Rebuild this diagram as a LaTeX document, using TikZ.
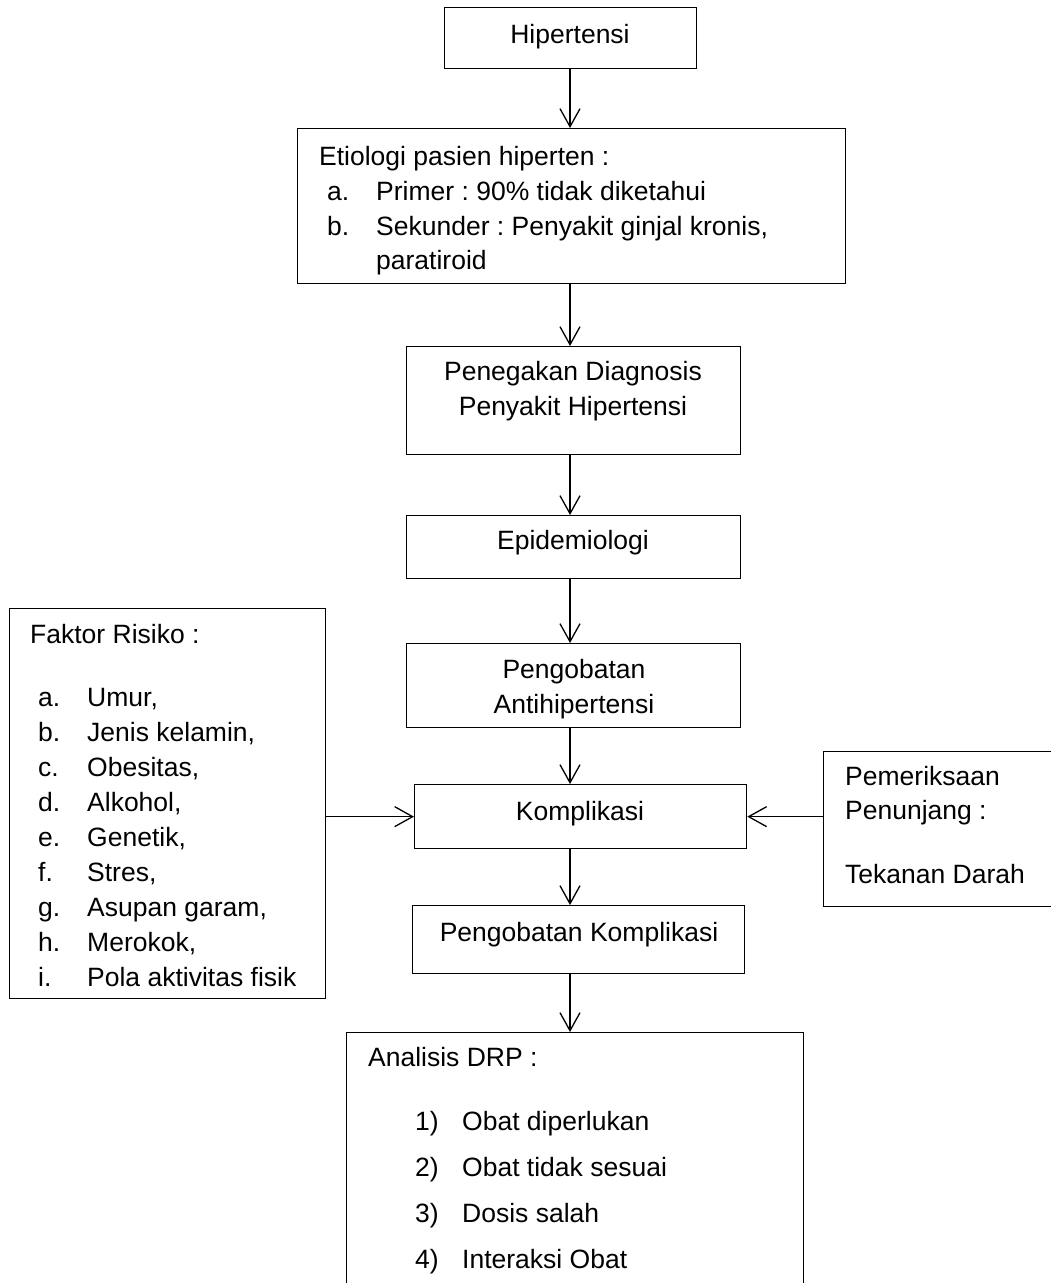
\documentclass[tikz,border=0pt]{standalone}
\usepackage{fontspec}
\setmainfont{Liberation Sans}
\frenchspacing
\usetikzlibrary{arrows.meta}
\tikzset{
  box/.style={draw=black, line width=1.3pt, rectangle, inner sep=0pt, anchor=north west},
  txt/.style={inner sep=0pt, font=\fontsize{26.5pt}{32pt}\selectfont},
  tl/.style={txt, anchor=base west},
  tc/.style={txt, anchor=base},
  arr/.style={line width=1.3pt, -{Straight Barb[length=18pt,width=20pt,line width=1.3pt]}}
}
\begin{document}
\begin{tikzpicture}[x=1pt,y=-1pt]
\clip (0,0) rectangle (1051,1283);
\fill[white] (0,0) rectangle (1051,1283);
% boxes
\node[box, minimum width=252pt, minimum height=61pt] (h) at (444,7) {};
\node[box, minimum width=548pt, minimum height=155pt] (et) at (297,128) {};
\node[box, minimum width=334pt, minimum height=108pt] (pd) at (406,346) {};
\node[box, minimum width=334pt, minimum height=63pt] (ep) at (406,515) {};
\node[box, minimum width=334pt, minimum height=84pt] (pa) at (406,643) {};
\node[box, minimum width=332pt, minimum height=64pt] (ko) at (414,784) {};
\node[box, minimum width=332pt, minimum height=68pt] (pk) at (412,905) {};
\node[box, minimum width=457pt, minimum height=300pt] (an) at (346,1032) {};
\node[box, minimum width=260pt, minimum height=155pt] (pp) at (823,751) {};
\node[box, minimum width=316pt, minimum height=390pt] (fr) at (9,608) {};
\coordinate (axis) at (570,0);
% connectors
\draw[arr] (axis |- h.south) -- (axis |- et.north);
\draw[arr] (axis |- et.south) -- (axis |- pd.north);
\draw[arr] (axis |- pd.south) -- (axis |- ep.north);
\draw[arr] (axis |- ep.south) -- (axis |- pa.north);
\draw[arr] (axis |- pa.south) -- (axis |- ko.north);
\draw[arr] (axis |- ko.south) -- (axis |- pk.north);
\draw[arr] (axis |- pk.south) -- (axis |- an.north);
\draw[arr] (fr.east |- ko.west) -- (ko.west);
\draw[arr] (pp.west |- ko.east) -- (ko.east);
% texts
\node[tc] (th) at (570,43) {Hipertensi};
\node[tl] (te0) at (319,165) {Etiologi pasien hiperten :};
\node[tl] (tea) at (327,200) {a.};
\node[tl] (tea2) at (376,200) {Primer : 90\% tidak diketahui};
\node[tl] (teb) at (327,235) {b.};
\node[tl] (teb2) at (376,235) {Sekunder : Penyakit ginjal kronis,};
\node[tl] (teb3) at (376,269) {paratiroid};
\node[tc] (tpd1) at (573,380) {Penegakan Diagnosis};
\node[tc] (tpd2) at (573,415) {Penyakit Hipertensi};
\node[tc] (tep) at (573,549) {Epidemiologi};
\node[tc] (tpa1) at (574,678) {Pengobatan};
\node[tc] (tpa2) at (574,713) {Antihipertensi};
\node[tc] (tko) at (580,820) {Komplikasi};
\node[tc] (tpk) at (579,941) {Pengobatan Komplikasi};
\node[tl] (tpp1) at (845,785) {Pemeriksaan};
\node[tl] (tpp2) at (845,819) {Penunjang :};
\node[tl] (tpp3) at (845,883) {Tekanan Darah};
\node[tl] (tfr) at (30,643) {Faktor Risiko :};
\foreach \l/\t [count=\i from 0] in {a./{Umur,},b./{Jenis kelamin,},c./{Obesitas,},d./{Alkohol,},e./{Genetik,},f./{Stres,},g./{Asupan garam,},h./{Merokok,},i./{Pola aktivitas fisik}}{
  \node[tl] (fl\i) at (38,706+35*\i) {\l};
  \node[tl] (ft\i) at (87,706+35*\i) {\t};
}
\node[tl] (tan) at (368,1066) {Analisis DRP :};
\foreach \t [count=\i] in {Obat diperlukan,Obat tidak sesuai,Dosis salah,Interaksi Obat}{
  \node[tl] (an\i) at (415,1130+46*\i-46) {\i)};
  \node[tl] (at\i) at (462,1130+46*\i-46) {\t};
}
\end{tikzpicture}
\end{document}
